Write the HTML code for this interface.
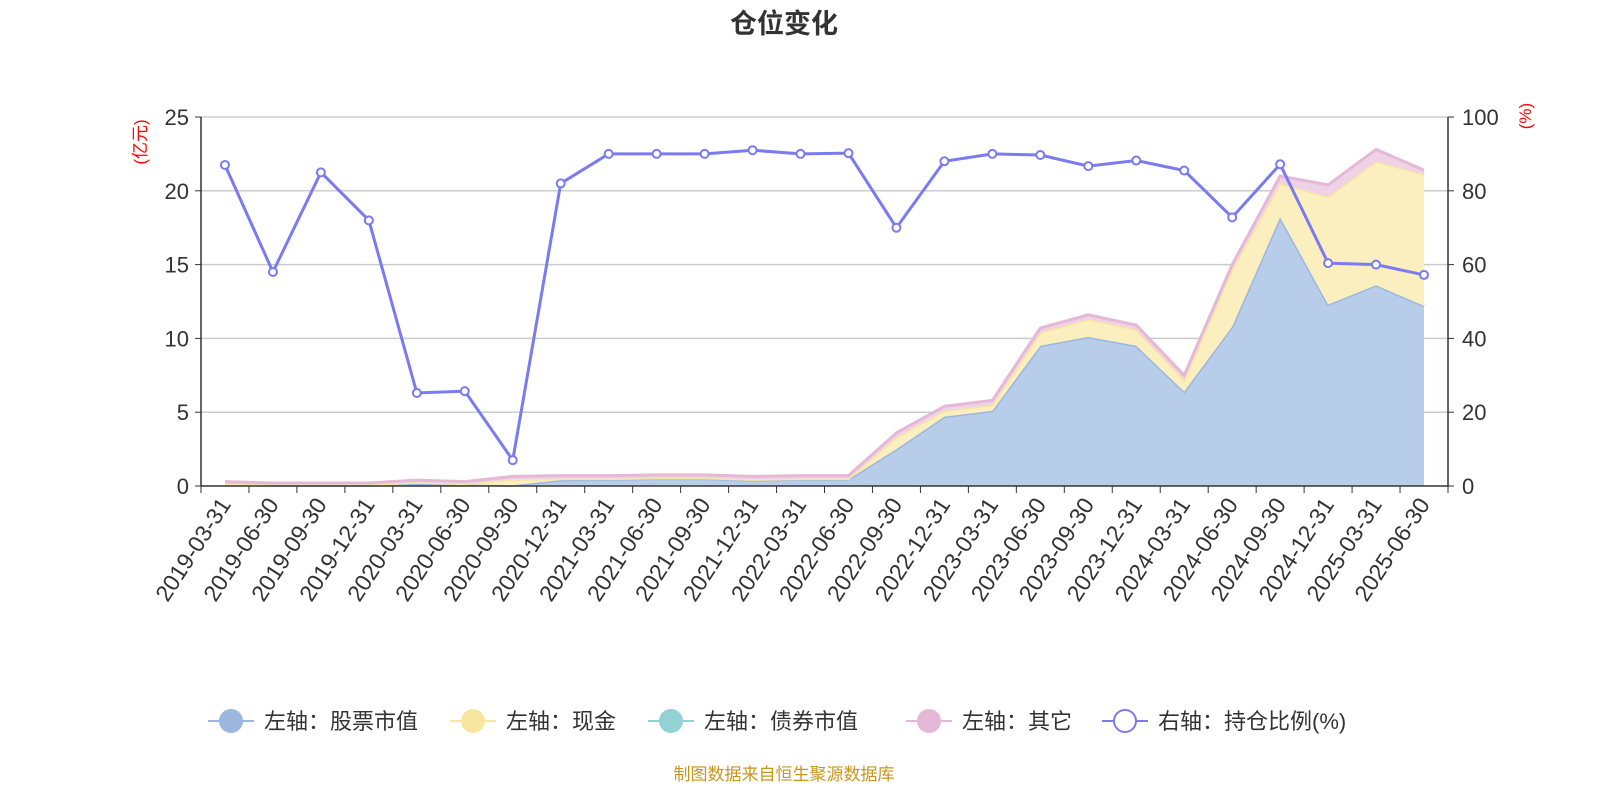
<!DOCTYPE html>
<html><head><meta charset="utf-8"><style>
body{margin:0;background:#fff;font-family:"Liberation Sans","Noto Sans CJK SC",sans-serif;}
</style></head><body>
<svg id="c" width="1600" height="800" xmlns="http://www.w3.org/2000/svg" style="font-family:'Liberation Sans','Noto Sans CJK SC',sans-serif"></svg>
<script>
const categories=["2019-03-31","2019-06-30","2019-09-30","2019-12-31","2020-03-31","2020-06-30","2020-09-30","2020-12-31","2021-03-31","2021-06-30","2021-09-30","2021-12-31","2022-03-31","2022-06-30","2022-09-30","2022-12-31","2023-03-31","2023-06-30","2023-09-30","2023-12-31","2024-03-31","2024-06-30","2024-09-30","2024-12-31","2025-03-31","2025-06-30"];
const stockValues=[0.1,0.05,0.05,0.05,0.15,0.1,0.05,0.4,0.45,0.5,0.5,0.4,0.45,0.45,2.5,4.7,5.1,9.5,10.1,9.5,6.4,10.8,18.2,12.3,13.6,12.2];
const cashValues=[0.05,0.05,0.05,0.05,0.1,0.05,0.4,0.1,0.05,0.05,0.05,0.05,0.05,0.05,0.8,0.4,0.4,0.9,1.2,1.1,0.8,3.9,2.3,7.3,8.4,8.9];
const bondValues=[0,0,0,0,0,0,0,0,0,0,0,0,0,0,0,0,0,0,0,0,0,0,0,0,0,0];
const otherValues=[0.15,0.1,0.1,0.1,0.15,0.15,0.2,0.2,0.2,0.2,0.2,0.2,0.2,0.2,0.3,0.3,0.3,0.3,0.3,0.3,0.3,0.3,0.5,0.8,0.8,0.3];
const ratioValues=[87,58,85,72,25.2,25.7,7,82,90,90,90,91,90,90.2,70,88,90,89.7,86.7,88.2,85.5,72.8,87.2,60.4,60,57.2];
const leftTicks=[0,5,10,15,20,25];
const rightTicks=[0,20,40,60,80,100];

const NS="http://www.w3.org/2000/svg",svg=document.getElementById('c');
const X0=201,X1=1448,Y0=486,Y1=117,bw=(X1-X0)/categories.length;
const xs=i=>X0+bw*(i+0.5);
const yl=v=>Y0-(v/25)*(Y0-Y1);
const yr=v=>Y0-(v/100)*(Y0-Y1);
function el(t,a,p){const e=document.createElementNS(NS,t);for(const k in a)e.setAttribute(k,a[k]);(p||svg).appendChild(e);return e;}
function txt(s,a,p){const e=el('text',a,p);e.textContent=s;return e;}

let t=txt('仓位变化',{x:784,y:33,'text-anchor':'middle','font-size':27,'font-weight':'bold',fill:'#333'});


const grid=el('g',{});
leftTicks.forEach(v=>{if(v>0)el('line',{x1:X0,x2:X1,y1:yl(v),y2:yl(v),stroke:'#ccc','stroke-width':1.5},grid);});

const layers=[[stockValues,'#b8cdea','#9bb7e0','stock-area',3],[cashValues,'#fbefc0','#f7e6a0','cash-area',3],[bondValues,'#c4e6e7','#93d2d4','bond-area',0],[otherValues,'#efd2e6','#e6b8d8','other-area',3]];
let base=categories.map(()=>0);
const areas=el('g',{});
layers.forEach(([vals,fill,line,name,w])=>{
  const top=base.map((b,i)=>b+vals[i]);
  let d='M'+top.map((v,i)=>xs(i)+','+yl(v)).join('L');
  for(let i=categories.length-1;i>=0;i--)d+='L'+xs(i)+','+yl(base[i]);
  const a=el('path',{d:d+'Z',fill:fill,stroke:'none'},areas);
  
  const l=el('polyline',{points:top.map((v,i)=>xs(i)+','+yl(v)).join(' '),fill:'none',stroke:line,'stroke-width':w},areas);
  
  base=top;
});

el('line',{x1:X0,x2:X0,y1:Y1,y2:Y0,stroke:'#333','stroke-width':1.5});
el('line',{x1:X1,x2:X1,y1:Y1,y2:Y0+1,stroke:'#333','stroke-width':1.5});
el('line',{x1:X0,x2:X1,y1:Y0,y2:Y0,stroke:'#333','stroke-width':1.5});
leftTicks.forEach(v=>{el('line',{x1:X0-6,x2:X0,y1:yl(v),y2:yl(v),stroke:'#333'});
  const e=txt(v,{x:X0-12,y:yl(v)+8,'text-anchor':'end','font-size':22,fill:'#333'});});
rightTicks.forEach(v=>{el('line',{x1:X1,x2:X1+6,y1:yr(v),y2:yr(v),stroke:'#333'});
  const e=txt(v,{x:X1+14,y:yr(v)+8,'font-size':22,fill:'#333'});});
for(let i=0;i<=categories.length;i++)el('line',{x1:X0+bw*i,x2:X0+bw*i,y1:Y0,y2:Y0+7,stroke:'#333'});
categories.forEach((c,i)=>{const x=xs(i),y=Y0+14;
  const e=txt(c,{x:x,y:y,'text-anchor':'end','font-size':23,fill:'#333',transform:`rotate(-57 ${x} ${y}) translate(0 8)`});
  });
t=txt('(亿元)',{x:146,y:142,'text-anchor':'middle','font-size':17,fill:'red',transform:'rotate(-90 146 142)'});

t=txt('(%)',{x:1531,y:116,'text-anchor':'middle','font-size':17,fill:'red',transform:'rotate(-90 1531 116)'});


const rg=el('g',{});
el('polyline',{points:ratioValues.map((v,i)=>xs(i)+','+yr(v)).join(' '),fill:'none',stroke:'#7b7bf0','stroke-width':3},rg);
ratioValues.forEach((v,i)=>{const p=el('circle',{cx:xs(i),cy:yr(v),r:4,fill:'#fff',stroke:'#7b7bf0','stroke-width':2},rg);
  });

const leg=[['左轴：股票市值','#9bb7e0',true,208],['左轴：现金','#f7e6a0',true,450],['左轴：债券市值','#93d2d4',true,648],['左轴：其它','#e6b8d8',true,906],['右轴：持仓比例(%)','#7b7bf0',false,1102]];
leg.forEach(([s,c,f,x])=>{const g=el('g',{});
  el('line',{x1:x,x2:x+46,y1:721,y2:721,stroke:c,'stroke-width':2},g);
  el('circle',{cx:x+23,cy:721,r:11,fill:f?c:'#fff',stroke:c,'stroke-width':2},g);
  txt(s,{x:x+56,y:729,'font-size':22,fill:'#333'},g);});

t=txt('制图数据来自恒生聚源数据库',{x:784,y:780,'text-anchor':'middle','font-size':17,fill:'#c8961e'});

</script>
</body></html>
